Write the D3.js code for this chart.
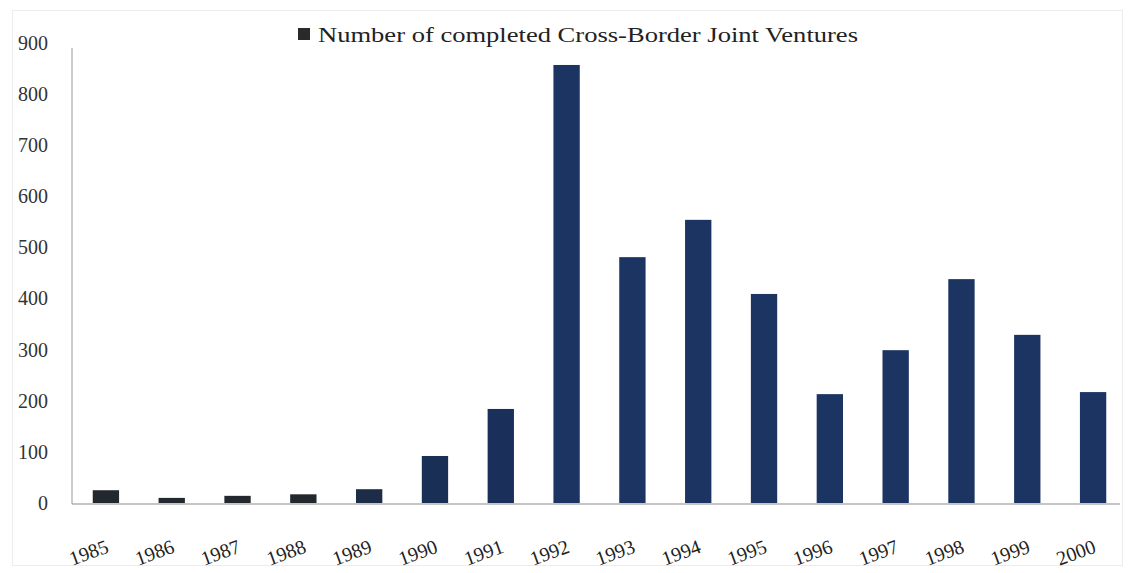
<!DOCTYPE html>
<html><head><meta charset="utf-8">
<script src="https://cdn.jsdelivr.net/npm/d3@7"></script>
<style>body{margin:0;background:#fff}svg{display:block}text{font-family:"Liberation Serif","DejaVu Serif",serif}</style>
</head><body><svg id="c" width="1128" height="573"></svg>
<script>
const years = ["1985","1986","1987","1988","1989","1990","1991","1992","1993","1994","1995","1996","1997","1998","1999","2000"];
const ventures = [25,10,14,17,27,92,184,857,481,554,409,213,299,438,329,217];
const barColors = ["#23272e","#23272e","#23272e","#23272e","#1d2d48","#1a2f55","#1a2f5a","#1b3462","#1b3462","#1b3462","#1b3462","#1b3462","#1b3462","#1b3462","#1b3462","#1b3462"];
const yTicks = [0,100,200,300,400,500,600,700,800,900];
const legendLabel = "Number of completed Cross-Border Joint Ventures";

const svg = d3.select("#c");
svg.append("rect").attr("x",12.5).attr("y",10.5).attr("width",1110).attr("height",555)
  .attr("fill","none").attr("stroke","#ececec");

const x = d3.scaleBand().domain(years).range([73,1126]).paddingInner(0.6).paddingOuter(0.3);
const y = d3.scaleLinear().domain([0,900]).range([503,43]);

// y axis
const ya = svg.append("g").attr("transform","translate(72,0)")
  .call(d3.axisLeft(y).tickValues(yTicks).tickSize(0).tickPadding(24));
ya.select(".domain").attr("stroke","#9a9a9a").attr("d","M0,48V504");
ya.selectAll("text").attr("font-size",20).attr("fill","#333")
  .attr("font-family","'Liberation Serif',serif");

// bars
svg.append("g").selectAll("rect").data(years).join("rect")
  .attr("x",d=>x(d)).attr("width",x.bandwidth())
  .attr("y",(d,i)=>y(ventures[i])).attr("height",(d,i)=>y(0)-y(ventures[i]))
  .attr("fill",(d,i)=>barColors[i]);

// x axis
const xa = svg.append("g").attr("transform","translate(0,504)")
  .call(d3.axisBottom(x).tickSize(0).tickPadding(0));
xa.select(".domain").attr("stroke","#8a8a8a").attr("d","M72,0H1120");
xa.selectAll("text").attr("font-size",20).attr("fill","#222")
  .attr("font-family","'Liberation Serif',serif")
  .attr("text-anchor","end").attr("dy",0)
  .attr("transform","translate(4,48) rotate(-20)");

// legend
const lg = svg.append("g");
lg.append("rect").attr("x",298).attr("y",28).attr("width",12).attr("height",12).attr("fill","#2a2a2a");
lg.append("text").attr("x",318).attr("y",42).attr("font-size",22).attr("fill","#222")
  .attr("textLength",540).attr("lengthAdjust","spacingAndGlyphs").text(legendLabel);
</script></body></html>
